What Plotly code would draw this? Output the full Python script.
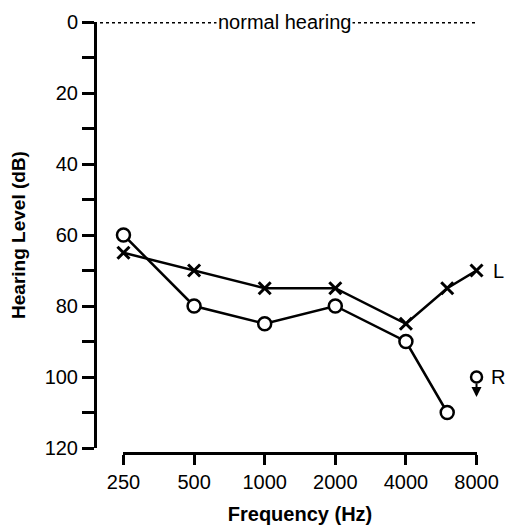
import plotly.graph_objects as go
import math

freqs_left = [250, 500, 1000, 2000, 4000, 6000, 8000]
left_db = [65, 70, 75, 75, 85, 75, 70]
freqs_right = [250, 500, 1000, 2000, 4000, 6000]
right_db = [60, 80, 85, 80, 90, 110]
nr_freq = [8000]
nr_db = [100]
x_ticks = [250, 500, 1000, 2000, 4000, 8000]
y_ticks = list(range(0, 121, 10))
y_ticktext = [str(v) if v % 20 == 0 else "" for v in y_ticks]

W, H = 508, 530
ml = 95
plot_right = 477
mr = W - plot_right
mt = 22
plot_bottom = 453
mb = H - plot_bottom
pw = W - ml - mr
ph = H - mt - mb

eps = 0.002

fig = go.Figure()
fig.add_trace(go.Scatter(
    x=freqs_right, y=right_db, mode="lines+markers",
    line=dict(color="black", width=2.5),
    marker=dict(symbol="circle", size=13, color="white",
                line=dict(color="black", width=2.5)),
    cliponaxis=False, showlegend=False, hoverinfo="skip"))
fig.add_trace(go.Scatter(
    x=freqs_left, y=left_db, mode="lines+markers",
    line=dict(color="black", width=2.5),
    marker=dict(symbol="x-thin", size=12, color="black",
                line=dict(color="black", width=3)),
    cliponaxis=False, showlegend=False, hoverinfo="skip"))
fig.add_trace(go.Scatter(
    x=nr_freq, y=nr_db, mode="markers",
    marker=dict(symbol="circle", size=11, color="white",
                line=dict(color="black", width=2.5)),
    cliponaxis=False, showlegend=False, hoverinfo="skip"))

font = dict(family="Liberation Sans, Arial", size=20, color="black")

fig.update_layout(
    width=W, height=H, autosize=False,
    margin=dict(l=ml, r=mr, t=mt, b=mb, autoexpand=False),
    plot_bgcolor="white", paper_bgcolor="white",
    font=font,
    xaxis=dict(
        type="log", range=[math.log10(250) - eps, math.log10(8000) + eps],
        domain=[(123 - 95) / pw, 1],
        anchor="free", position=0, automargin=False,
        tickvals=x_ticks, ticktext=[str(v) for v in x_ticks],
        ticks="outside", ticklen=10, tickwidth=3, tickcolor="black",
        showline=True, linewidth=3, linecolor="black",
        showgrid=False, zeroline=False,
        tickfont=dict(size=20),
        title=dict(text="<b>Frequency (Hz)</b>", font=dict(size=20), standoff=14),
    ),
    yaxis=dict(
        range=[120, 0],
        domain=[(453 - 448) / ph, 1],
        anchor="free", position=0, automargin=False,
        tickvals=y_ticks, ticktext=y_ticktext,
        ticks="outside", ticklen=12, tickwidth=3, tickcolor="black",
        showline=True, linewidth=3, linecolor="black",
        showgrid=False, zeroline=False,
        tickfont=dict(size=20),
        title=dict(text="<b>Hearing Level (dB)</b>", font=dict(size=19), standoff=12),
    ),
)

fig.add_shape(type="line", xref="paper", yref="y",
              x0=(100 - 95) / pw, x1=1, y0=0, y1=0,
              line=dict(color="black", width=3, dash="dot"))
fig.add_annotation(x=(284 - 95) / pw, xref="paper", y=0, yref="y",
                   text="normal hearing", showarrow=False,
                   bgcolor="white", font=dict(size=20), borderpad=1)
fig.add_annotation(x=math.log10(8000), y=left_db[-1], text="L", showarrow=False,
                   xanchor="left", xshift=14, font=dict(size=20))
fig.add_annotation(x=math.log10(8000), y=nr_db[0], text="R", showarrow=False,
                   xanchor="left", xshift=12, font=dict(size=20))
fig.add_annotation(x=math.log10(8000), y=nr_db[0], text="", showarrow=True,
                   ax=0, ay=-15, yshift=-20, arrowhead=2, arrowsize=1,
                   arrowwidth=2, arrowcolor="black", standoff=0)

fig.write_html(
    "out.html",
    config={"displayModeBar": False},
    post_script="document.body.style.margin='0';document.body.style.overflow='hidden';",
)
